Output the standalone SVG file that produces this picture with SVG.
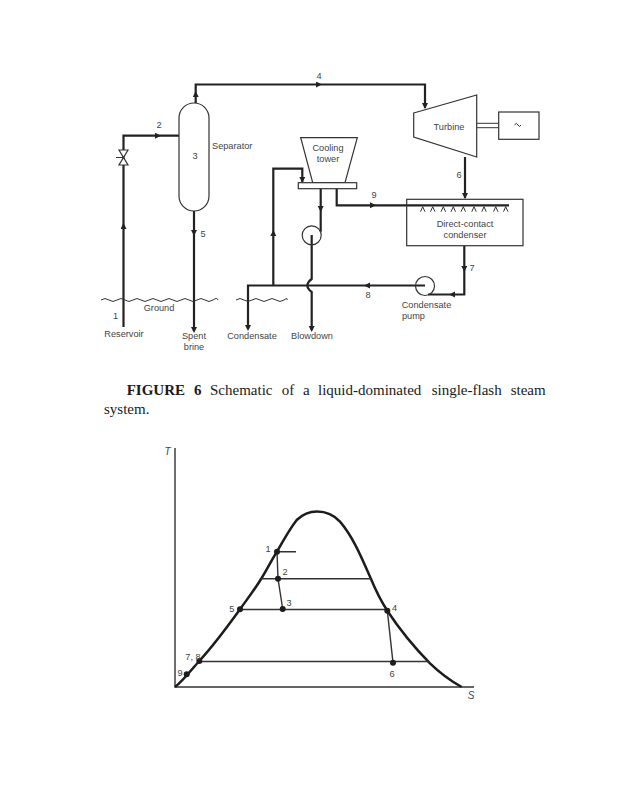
<svg xmlns="http://www.w3.org/2000/svg" width="617" height="800" viewBox="0 0 617 800">
<style>
text{font-family:"Liberation Sans",Arial,sans-serif;font-size:9.2px;fill:#444;text-anchor:middle}
.cap{font-family:"Liberation Serif","Times New Roman",serif;font-size:15px;fill:#1a1a1a;text-anchor:start}
.b{font-weight:bold}
.it{font-style:italic;font-size:10px}
.pipe{fill:none;stroke:#222;stroke-width:2.2}
.thin{fill:none;stroke:#333;stroke-width:1}
.shape{fill:#fff;stroke:#333;stroke-width:1.2}
.curve{fill:none;stroke:#1c1c1c;stroke-width:2.5}
.ln{fill:none;stroke:#333;stroke-width:1.4}
.dot{fill:#1c1c1c}
.arr{fill:none;stroke:none;marker-end:url(#ah)}
.wave{fill:none;stroke:#333;stroke-width:1}
</style>
<defs>
<marker id="ah" markerUnits="userSpaceOnUse" markerWidth="7" markerHeight="7" refX="5" refY="3" orient="auto"><path d="M0 0L6 3L0 6Z" fill="#222"/></marker>
</defs>
<rect width="617" height="800" fill="#fff"/>

<g id="connectors">
<path class="pipe" d="M123.5 327V135.7H179"/>
<path class="pipe" d="M195.7 103V84.5H425V108"/>
<path class="pipe" d="M194 211V331"/>
<path class="pipe" d="M465 157V198"/>
<path class="pipe" d="M336.7 188V205.3H509"/>
<path class="pipe" d="M464.3 246V294.5H428"/>
<path class="pipe" d="M425 285.5H248V329"/>
<path class="pipe" d="M273.3 285.5V168.7H302.3V182"/>
<path class="pipe" d="M320.7 188V231.7"/>
<path class="pipe" d="M311.7 235V279Q303 285.5 311.7 292V330"/>
<g id="arrows">
<path class="arr" d="M425 100V108"/>
<path class="arr" d="M316 84.5H321"/>
<path class="arr" d="M195.7 97V92"/>
<path class="arr" d="M155 135.7H160"/>
<path class="arr" d="M123.5 229V224"/>
<path class="arr" d="M194 230V235"/>
<path class="arr" d="M194 326V332"/>
<path class="arr" d="M248 324V330"/>
<path class="arr" d="M311.7 325V331"/>
<path class="arr" d="M273.3 236V231"/>
<path class="arr" d="M302.3 176V182"/>
<path class="arr" d="M320.7 206V211"/>
<path class="arr" d="M370 205.3H375"/>
<path class="arr" d="M465 192V198"/>
<path class="arr" d="M464.3 266V271"/>
<path class="arr" d="M455 294.5H450"/>
<path class="arr" d="M370 285.5H365"/>
</g>
</g>

<g id="ground"><path class="wave" d="M101 300q4-3 8 0t8 0 8 0 8 0 8 0 8 0 8 0 8 0 8 0 8 0 8 0 8 0 8 0 8 0 5 0"/>
<path class="wave" d="M236 300q4-3 8 0t8 0 8 0 8 0 8 0 8 0 3 0"/>
<text x="159" y="311">Ground</text></g>

<g id="valve"><path class="shape" d="M119 150H128L119 165H128Z"/><path class="thin" d="M116 157.500H123.500"/></g>
<g id="separator"><rect class="shape" x="179" y="103" width="30" height="108" rx="15" ry="15"/><text x="195" y="159">3</text></g>
<text x="212" y="149" style="text-anchor:start">Separator</text>

<g id="turbine"><path class="shape" d="M413.700 113L476.700 95V157L413.700 137Z"/><text x="449" y="130">Turbine</text></g>
<g id="shaft"><path class="thin" d="M476.700 123.300H498.700M476.700 127.700H498.700"/></g>
<g id="generator"><rect class="shape" x="498.700" y="112" width="40.300" height="27.300"/><path class="thin" d="M514.500 125q2-3 3.500 0t3 0"/></g>

<g id="cooling-tower"><path class="shape" d="M300.700 137.700H357.300L345 182.700H312.700Z"/><rect class="shape" x="298.300" y="182.700" width="58.400" height="6"/><text x="328" y="151">Cooling</text><text x="328" y="162">tower</text></g>

<g id="condenser"><rect class="shape" style="fill:none" x="406.700" y="199.300" width="116.300" height="46.400"/>
<path class="thin" d="M420.500 211.700L422.700 206.700L425 211.700M430.500 211.700L432.700 206.700L435 211.700M441 211.700L443.300 206.700L445.500 211.700M451 211.700L453.300 206.700L455.500 211.700M461 211.700L463.300 206.700L465.500 211.700M471.800 211.700L474 206.700L476.200 211.700M481.800 211.700L484 206.700L486.200 211.700M493.500 211.700L495.700 206.700L498 211.700M503.500 211.700L505.700 206.700L508 211.700"/>
<text x="465" y="227">Direct-contact</text><text x="465" y="238">condenser</text></g>

<g id="condensate-pump"><circle class="thin" style="stroke-width:1.200" cx="425" cy="286" r="9.500"/><text x="426.500" y="307.500">Condensate</text><text x="402" y="318.500" style="text-anchor:start">pump</text></g>
<g id="cooling-pump"><circle class="thin" style="stroke-width:1.200" cx="311.700" cy="235.300" r="9.500"/></g>

<g id="labels">
<text x="319" y="79">4</text>
<text x="159" y="128">2</text>
<text x="203" y="237">5</text>
<text x="115.500" y="319">1</text>
<text x="124" y="337">Reservoir</text>
<text x="194" y="339">Spent</text>
<text x="194" y="350">brine</text>
<text x="252" y="339">Condensate</text>
<text x="312" y="339">Blowdown</text>
<text x="459" y="178">6</text>
<text x="374" y="198">9</text>
<text x="472" y="271">7</text>
<text x="368" y="298">8</text>
</g>

<g id="caption">
<text class="cap b" y="395"><tspan x="126.700">FIGURE</tspan><tspan x="194">6</tspan></text>
<text class="cap" y="395"><tspan x="210">Schematic</tspan><tspan x="281.700">of</tspan><tspan x="303">a</tspan><tspan x="318">liquid-dominated</tspan><tspan x="431.700">single-flash</tspan><tspan x="510.700">steam</tspan></text>
<text class="cap" x="104" y="414">system.</text>
</g>

<g id="ts-diagram">
<path class="ln" d="M175 448V687H474"/>
<path class="curve" d="M175 687C183 681 192 669 199.300 661C214 645 228 626 240 609.300C248 598 255 589 261.700 578C268 568 272 559 277 551.700C283 541 289 530 296.700 520C304 513 310 511.500 317 511.500C327 511.500 334 515 340 521.700C354 538 363 561 371 579C376 591 381 601 387.300 610.700C400 630 415 648 430 663.300C440 673 451 681 461.700 687"/>
<path class="ln" d="M277 551.700H296M261 578.700H371M240 609.500H387M199 661.500H429"/>
<path class="ln" d="M277 551.700L278 578.700L282.700 609M387.300 610.700L393 662.700"/>
<circle class="dot" cx="186.700" cy="674.300" r="3"/>
<circle class="dot" cx="199.300" cy="661" r="3"/>
<circle class="dot" cx="240" cy="609.300" r="3"/>
<circle class="dot" cx="277" cy="551.700" r="3"/>
<circle class="dot" cx="278" cy="578.700" r="3"/>
<circle class="dot" cx="282.700" cy="609" r="3"/>
<circle class="dot" cx="387.300" cy="610.700" r="3"/>
<circle class="dot" cx="393" cy="662.700" r="3"/>
<text class="it" x="167.500" y="455">T</text>
<text x="268" y="552">1</text>
<text x="285" y="575">2</text>
<text x="289" y="606">3</text>
<text x="231.700" y="612">5</text>
<text x="394.500" y="611">4</text>
<text x="392" y="677">6</text>
<text x="193" y="660">7, 8</text>
<text x="180" y="675.500">9</text>
<text class="it" x="471" y="699">S</text>
</g>
</svg>
